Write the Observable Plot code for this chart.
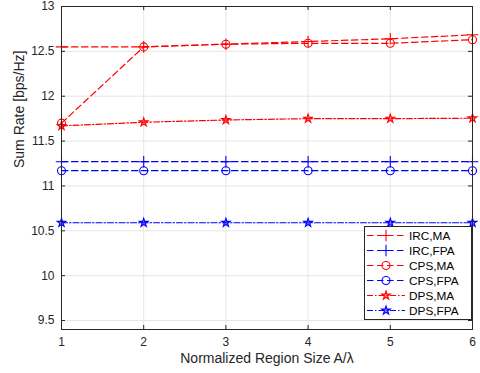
<!DOCTYPE html>
<html><head><meta charset="utf-8">
<script src="https://cdn.jsdelivr.net/npm/d3@7"></script>
<script src="https://cdn.jsdelivr.net/npm/@observablehq/plot@0.6"></script>
<style>
body{margin:0;background:#fff;}
#chart svg{display:block;}
</style>
</head><body><div id="chart"></div>
<script>
const xValues = [1, 2, 3, 4, 5, 6];
const ircMA  = [12.55, 12.55, 12.58, 12.61, 12.64, 12.685];
const ircFPA = [11.27, 11.27, 11.27, 11.27, 11.27, 11.27];
const cpsMA  = [11.70, 12.55, 12.58, 12.59, 12.59, 12.63];
const cpsFPA = [11.17, 11.17, 11.17, 11.17, 11.17, 11.17];
const dpsMA  = [11.67, 11.71, 11.735, 11.75, 11.75, 11.755];
const dpsFPA = [10.59, 10.59, 10.59, 10.59, 10.59, 10.59];
const seriesNames = ["IRC,MA", "IRC,FPA", "CPS,MA", "CPS,FPA", "DPS,MA", "DPS,FPA"];
const xTicks = [1, 2, 3, 4, 5, 6];
const yTicks = [9.5, 10, 10.5, 11, 11.5, 12, 12.5, 13];
const xLabel = "Normalized Region Size A/λ";
const yLabel = "Sum Rate [bps/Hz]";

const seriesValues = [ircMA, ircFPA, cpsMA, cpsFPA, dpsMA, dpsFPA];
const styles = [
  {color: "#ff0000", dash: "6.5,3.5", symbol: "plus", r: 3.8, fo: 0},
  {color: "#0000ff", dash: "6.5,3.5", symbol: "plus", r: 3.8, fo: 0},
  {color: "#ff0000", dash: "6.5,3.5", symbol: "circle", r: 4, fo: 0},
  {color: "#0000ff", dash: "6.5,3.5", symbol: "circle", r: 4, fo: 0},
  {color: "#ff0000", dash: "6,2,1.5,2", symbol: "star", r: 2.7, fo: 0.45},
  {color: "#0000ff", dash: "6,2,1.5,2", symbol: "star", r: 2.7, fo: 0.45}
];

const W = 480, H = 373, mL = 61, mR = 8, mT = 6, mB = 44;
const pw = W - mL - mR, ph = H - mT - mB;
const ink = "#262626";
const font = "'Liberation Sans', Arial, sans-serif";

const marks = [
  Plot.gridX(xTicks, {stroke: "#e6e6e6", strokeOpacity: 1}),
  Plot.gridY(yTicks, {stroke: "#e6e6e6", strokeOpacity: 1}),
];
seriesValues.forEach((vals, i) => {
  const data = xValues.map((x, j) => ({x, y: vals[j]}));
  const s = styles[i];
  marks.push(Plot.line(data, {x: "x", y: "y", stroke: s.color, strokeWidth: 1.2, strokeDasharray: s.dash}));
  marks.push(Plot.dot(data, {x: "x", y: "y", stroke: s.color, fill: s.color, fillOpacity: s.fo, strokeWidth: 1.1, symbol: s.symbol, r: s.r}));
});
marks.push(
  Plot.tickX(xTicks, {x: d => d, stroke: ink, insetTop: ph - 4}),
  Plot.tickX(xTicks, {x: d => d, stroke: ink, insetBottom: ph - 4}),
  Plot.tickY(yTicks, {y: d => d, stroke: ink, insetRight: pw - 4}),
  Plot.tickY(yTicks, {y: d => d, stroke: ink, insetLeft: pw - 4}),
  Plot.frame({stroke: ink, strokeWidth: 1}),
  Plot.axisX(xTicks, {tickSize: 0, tickPadding: 8, color: ink, fontSize: 12, label: null}),
  Plot.axisY(yTicks, {tickSize: 0, tickPadding: 7, color: ink, fontSize: 12, label: null, tickFormat: d => String(d)}),
  Plot.text([xLabel], {frameAnchor: "bottom", dy: 29, text: d => d, fill: ink, fontSize: 14, lineAnchor: "middle"}),
  Plot.text([yLabel], {frameAnchor: "left", dx: -42, rotate: -90, text: d => d, fill: ink, fontSize: 14, lineAnchor: "middle"})
);

const chart = Plot.plot({
  width: W, height: H,
  marginLeft: mL, marginRight: mR, marginTop: mT, marginBottom: mB,
  style: {fontFamily: font, fontSize: "12px", color: ink, background: "#fff"},
  x: {domain: [1, 6]},
  y: {domain: [9.4, 13]},
  marks
});
document.getElementById("chart").appendChild(chart);

// legend
const svg = d3.select(chart);
const lx = 364, ly = 226, lw = 107, lh = 93;
const lg = svg.append("g");
lg.append("rect").attr("x", lx + 0.5).attr("y", ly + 0.5).attr("width", lw).attr("height", lh)
  .attr("fill", "#fff").attr("stroke", ink).attr("stroke-width", 1);
const symMap = {plus: d3.symbolPlus, circle: d3.symbolCircle, star: d3.symbolStar};
seriesNames.forEach((name, i) => {
  const s = styles[i];
  const yy = ly + 9.5 + i * 15;
  lg.append("line").attr("x1", lx + 3).attr("x2", lx + 41).attr("y1", yy).attr("y2", yy)
    .attr("stroke", s.color).attr("stroke-width", 1.2).attr("stroke-dasharray", s.dash);
  lg.append("path").attr("transform", `translate(${lx + 22},${yy})`)
    .attr("d", d3.symbol(symMap[s.symbol], Math.PI * s.r * s.r)())
    .attr("fill", s.color).attr("fill-opacity", s.fo).attr("stroke", s.color).attr("stroke-width", 1.1);
  lg.append("text").attr("x", lx + 45).attr("y", yy).attr("dy", "0.35em")
    .attr("text-anchor", "start").attr("font-family", font)
    .attr("fill", "#000").attr("font-size", "11.8px").text(name);
});
</script>
</body></html>
